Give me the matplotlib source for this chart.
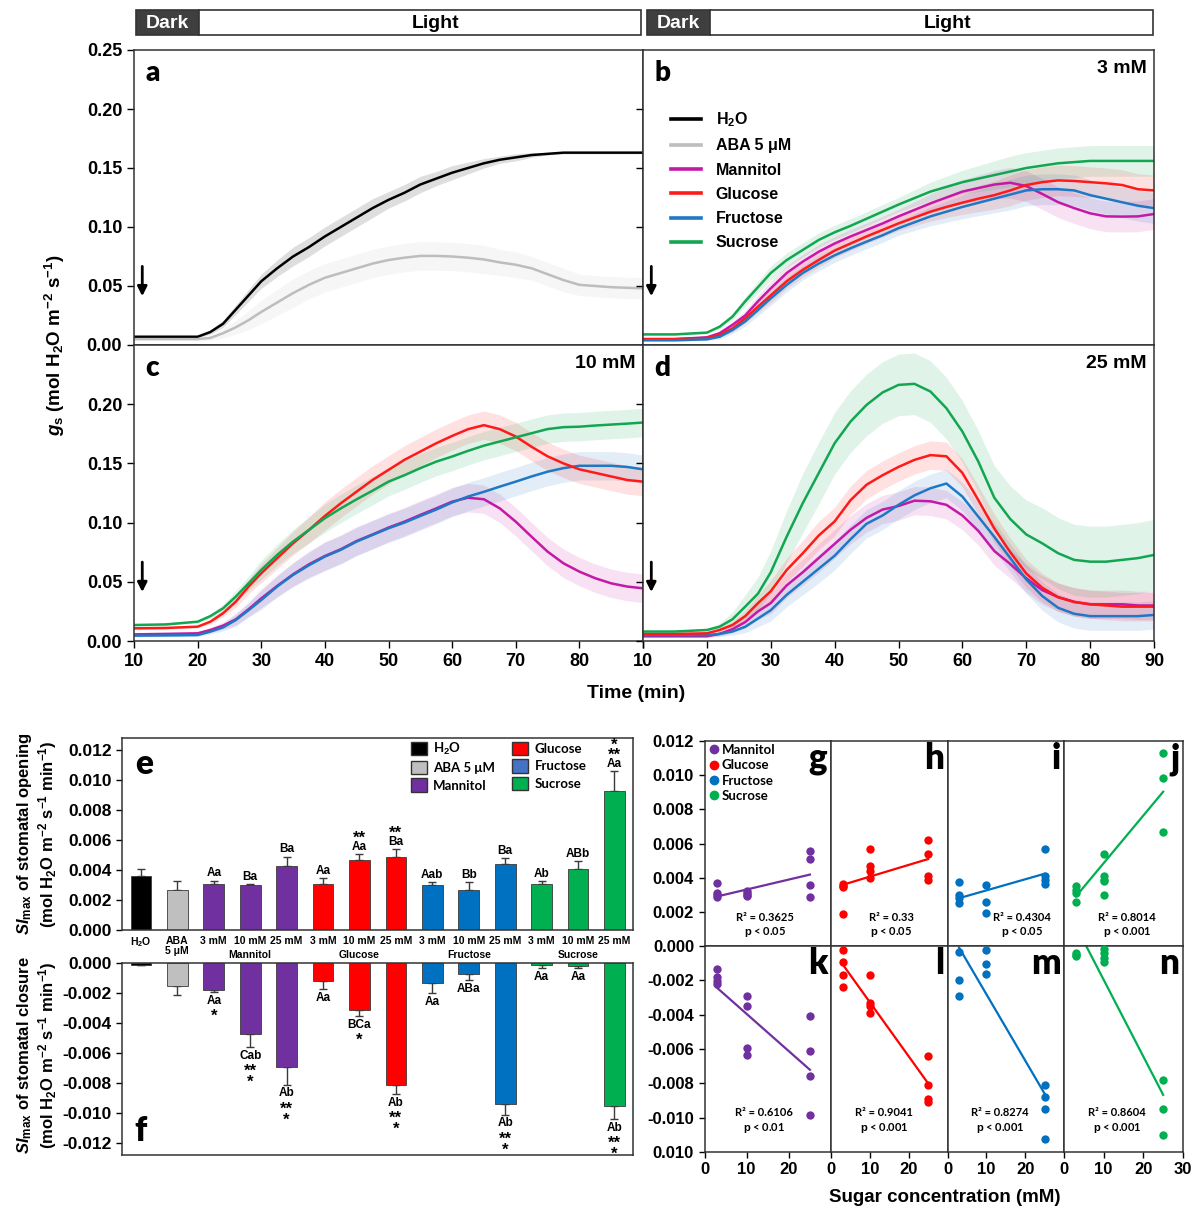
import numpy as np
import matplotlib
matplotlib.use('Agg')
import matplotlib.pyplot as plt
from matplotlib.lines import Line2D
from matplotlib.patches import Patch, Rectangle

plt.rcParams['font.family'] = ['Liberation Sans', 'DejaVu Sans']
plt.rcParams['font.weight'] = 'bold'
plt.rcParams['mathtext.fontset'] = 'custom'
plt.rcParams['mathtext.rm'] = 'Liberation Sans:bold'
plt.rcParams['mathtext.it'] = 'Liberation Sans:italic:bold'
plt.rcParams['mathtext.bf'] = 'Liberation Sans:bold'
plt.rcParams['mathtext.default'] = 'rm'
plt.rcParams['axes.linewidth'] = 1.1
plt.rcParams['axes.edgecolor'] = '#333333'

CAL = ['Lato', 'DejaVu Sans']

# ---------------- time courses (g_s, mol m-2 s-1) ----------------
T = [10, 15, 20, 22, 24, 26, 28, 30, 32.5, 35, 37.5, 40, 42.5, 45, 47.5, 50,
     52.5, 55, 57.5, 60, 62.5, 65, 67.5, 70, 72.5, 75, 77.5, 80, 82.5, 85, 87.5, 90]

a_h2o = [0.007, 0.007, 0.007, 0.011, 0.018, 0.030, 0.042, 0.054, 0.065, 0.075, 0.083, 0.092, 0.100, 0.108, 0.116, 0.123,
         0.129, 0.136, 0.141, 0.146, 0.150, 0.154, 0.157, 0.159, 0.161, 0.162, 0.163, 0.163, 0.163, 0.163, 0.163, 0.163]
a_h2o_se = [0.001, 0.001, 0.001, 0.002, 0.003, 0.004, 0.005, 0.006, 0.007, 0.008, 0.008, 0.008, 0.008, 0.008, 0.008, 0.007,
            0.007, 0.007, 0.006, 0.006, 0.005, 0.004, 0.003, 0.003, 0.002, 0.001, 0.001, 0.001, 0.001, 0.001, 0.001, 0.001]
a_aba = [0.005, 0.005, 0.005, 0.006, 0.010, 0.015, 0.021, 0.028, 0.036, 0.044, 0.051, 0.057, 0.061, 0.065, 0.069, 0.072,
         0.074, 0.0755, 0.0755, 0.075, 0.074, 0.0725, 0.070, 0.068, 0.065, 0.060, 0.055, 0.051, 0.050, 0.049, 0.0485, 0.048]
a_aba_se = [0.001, 0.001, 0.001, 0.002, 0.004, 0.006, 0.008, 0.010, 0.011, 0.012, 0.012, 0.012, 0.012, 0.012, 0.012, 0.012,
            0.012, 0.012, 0.012, 0.012, 0.012, 0.012, 0.011, 0.011, 0.010, 0.010, 0.010, 0.009, 0.009, 0.009, 0.009, 0.009]

b_man = [0.005, 0.005, 0.0065, 0.010, 0.017, 0.025, 0.037, 0.048, 0.061, 0.0706, 0.079, 0.086, 0.092, 0.0975, 0.103, 0.109,
         0.1145, 0.120, 0.125, 0.130, 0.133, 0.136, 0.1375, 0.1347, 0.128, 0.121, 0.116, 0.1116, 0.109, 0.1088, 0.109, 0.111]
b_glu = [0.005, 0.005, 0.006, 0.0085, 0.014, 0.0226, 0.0325, 0.042, 0.054, 0.0636, 0.072, 0.080, 0.086, 0.092, 0.0975, 0.103,
         0.108, 0.113, 0.117, 0.1206, 0.124, 0.127, 0.131, 0.1356, 0.138, 0.1395, 0.139, 0.138, 0.137, 0.1356, 0.132, 0.131]
b_fru = [0.004, 0.004, 0.0048, 0.007, 0.0127, 0.020, 0.0297, 0.0395, 0.051, 0.061, 0.069, 0.076, 0.082, 0.0876, 0.093, 0.099,
         0.104, 0.109, 0.113, 0.117, 0.1205, 0.124, 0.1275, 0.131, 0.132, 0.132, 0.131, 0.127, 0.124, 0.121, 0.118, 0.116]
b_suc = [0.009, 0.009, 0.0105, 0.0155, 0.024, 0.037, 0.049, 0.061, 0.072, 0.0805, 0.089, 0.0955, 0.101, 0.107, 0.113, 0.119,
         0.1245, 0.130, 0.134, 0.138, 0.141, 0.144, 0.147, 0.150, 0.152, 0.154, 0.155, 0.156, 0.156, 0.156, 0.156, 0.156]
b_se = [0.001, 0.001, 0.001, 0.002, 0.003, 0.004, 0.005, 0.006, 0.006, 0.006, 0.006, 0.006, 0.006, 0.006, 0.006, 0.006,
        0.007, 0.008, 0.009, 0.010, 0.011, 0.012, 0.013, 0.013, 0.013, 0.013, 0.013, 0.013, 0.013, 0.013, 0.013, 0.013]

c_man = [0.0056, 0.006, 0.0065, 0.0093, 0.013, 0.0183, 0.0268, 0.036, 0.0465, 0.0563, 0.0648, 0.0718, 0.0775, 0.0845, 0.090, 0.0958,
         0.1008, 0.1065, 0.112, 0.1177, 0.121, 0.1197, 0.112, 0.1008, 0.088, 0.0755, 0.0656, 0.0586, 0.053, 0.0487, 0.046, 0.0445]
c_glu = [0.0107, 0.011, 0.0121, 0.0163, 0.0234, 0.0332, 0.0459, 0.0572, 0.0699, 0.0825, 0.0938, 0.1056, 0.1163, 0.1262, 0.136, 0.1445,
         0.153, 0.160, 0.167, 0.1732, 0.1789, 0.1823, 0.1789, 0.1727, 0.164, 0.156, 0.150, 0.145, 0.142, 0.139, 0.136, 0.1346]
c_fru = [0.0045, 0.0047, 0.005, 0.0079, 0.0115, 0.0177, 0.026, 0.0346, 0.046, 0.0558, 0.064, 0.0713, 0.077, 0.084, 0.0896, 0.0952,
         0.100, 0.1056, 0.111, 0.117, 0.122, 0.126, 0.1304, 0.1346, 0.139, 0.143, 0.146, 0.148, 0.148, 0.148, 0.147, 0.145]
c_suc = [0.0135, 0.014, 0.0163, 0.021, 0.0276, 0.0375, 0.0487, 0.060, 0.0727, 0.084, 0.0938, 0.1037, 0.112, 0.1197, 0.127, 0.1346,
         0.140, 0.146, 0.1515, 0.1558, 0.1606, 0.165, 0.1685, 0.172, 0.1755, 0.179, 0.1806, 0.181, 0.182, 0.1828, 0.1836, 0.1845]
c_se = [0.001, 0.001, 0.001, 0.002, 0.003, 0.005, 0.006, 0.008, 0.009, 0.010, 0.011, 0.012, 0.012, 0.012, 0.012, 0.012,
        0.012, 0.012, 0.012, 0.012, 0.012, 0.012, 0.012, 0.012, 0.012, 0.012, 0.012, 0.012, 0.012, 0.012, 0.012, 0.012]

d_man = [0.004, 0.004, 0.004, 0.006, 0.010, 0.016, 0.025, 0.032, 0.047, 0.058, 0.070, 0.082, 0.094, 0.104, 0.111, 0.114,
         0.1185, 0.118, 0.115, 0.106, 0.093, 0.076, 0.065, 0.053, 0.043, 0.037, 0.033, 0.031, 0.031, 0.031, 0.030, 0.030]
d_glu = [0.006, 0.006, 0.0065, 0.0093, 0.0135, 0.021, 0.032, 0.042, 0.060, 0.074, 0.089, 0.101, 0.119, 0.132, 0.140, 0.147,
         0.153, 0.157, 0.156, 0.142, 0.119, 0.095, 0.075, 0.057, 0.045, 0.037, 0.033, 0.031, 0.030, 0.029, 0.029, 0.029]
d_fru = [0.005, 0.005, 0.005, 0.006, 0.008, 0.012, 0.019, 0.026, 0.039, 0.050, 0.061, 0.072, 0.086, 0.099, 0.106, 0.115,
         0.123, 0.129, 0.133, 0.122, 0.105, 0.088, 0.070, 0.052, 0.038, 0.028, 0.023, 0.021, 0.021, 0.021, 0.021, 0.022]
d_suc = [0.008, 0.008, 0.0093, 0.0121, 0.0183, 0.029, 0.040, 0.058, 0.0882, 0.1163, 0.1417, 0.167, 0.1854, 0.1994, 0.2099, 0.2163,
         0.2172, 0.2107, 0.1966, 0.1769, 0.1515, 0.121, 0.103, 0.090, 0.0825, 0.0741, 0.0685, 0.067, 0.067, 0.0685, 0.070, 0.0727]
d_se = [0.001, 0.001, 0.001, 0.002, 0.003, 0.005, 0.007, 0.009, 0.010, 0.011, 0.012, 0.012, 0.012, 0.012, 0.012, 0.012,
        0.012, 0.012, 0.012, 0.012, 0.012, 0.012, 0.012, 0.012, 0.012, 0.012, 0.012, 0.012, 0.012, 0.012, 0.012, 0.012]
d_suc_se = [0.001, 0.001, 0.001, 0.003, 0.006, 0.010, 0.014, 0.018, 0.022, 0.025, 0.026, 0.026, 0.026, 0.026, 0.026, 0.026,
            0.026, 0.026, 0.026, 0.026, 0.026, 0.027, 0.028, 0.029, 0.030, 0.030, 0.030, 0.030, 0.030, 0.030, 0.030, 0.030]

# ---------------- bar charts (SI max) ----------------
bar_labels = ['H$_2$O', 'ABA\n5 \u03bcM', '3 mM', '10 mM', '25 mM', '3 mM', '10 mM', '25 mM',
              '3 mM', '10 mM', '25 mM', '3 mM', '10 mM', '25 mM']
groups = ['Mannitol', 'Glucose', 'Fructose', 'Sucrose']
open_vals = [0.0036, 0.0027, 0.0031, 0.0030, 0.0043, 0.0031, 0.0047, 0.0049,
             0.0030, 0.0027, 0.0044, 0.0031, 0.0041, 0.0093]
open_se = [0.00045, 0.0006, 0.0002, 0.0001, 0.0006, 0.0004, 0.0004, 0.0005,
           0.0002, 0.0005, 0.0004, 0.00015, 0.0005, 0.0013]
open_letters = ['', '', 'Aa', 'Ba', 'Ba', 'Aa', 'Aa', 'Ba', 'Aab', 'Bb', 'Ba', 'Ab', 'ABb', 'Aa']
# star rows, nearest the letters first
open_stars = [[], [], [], [], [], [], ['**'], ['**'], [], [], [], [], [], ['**', '*']]
close_vals = [-0.0001, -0.0015, -0.0018, -0.0047, -0.0069, -0.0012, -0.0031, -0.0081,
              -0.0013, -0.0007, -0.0094, -0.00015, -0.0002, -0.0095]
close_se = [0.00005, 0.0006, 0.00016, 0.0009, 0.0012, 0.00056, 0.00045, 0.0006,
            0.0007, 0.0004, 0.0007, 0.00015, 0.00013, 0.0009]
close_letters = ['', '', 'Aa', 'Cab', 'Ab', 'Aa', 'BCa', 'Ab', 'Aa', 'ABa', 'Ab', 'Aa', 'Aa', 'Ab']
close_stars = [[], [], ['*'], ['**', '*'], ['**', '*'], [], ['*'], ['**', '*'], [], [], ['**', '*'], [], [], ['**', '*']]

# ---------------- regressions vs sugar concentration ----------------
sugars = ['Mannitol', 'Glucose', 'Fructose', 'Sucrose']
open_x = [[3, 3, 3, 3, 10, 10, 10, 10, 25, 25, 25, 25],
          [3, 3, 3, 3, 10, 10, 10, 10, 25, 25, 25, 25],
          [3, 3, 3, 3, 10, 10, 10, 25, 25, 25, 25],
          [3, 3, 3, 3, 10, 10, 10, 10, 10, 25, 25, 25]]
open_y = [[0.00366, 0.0031, 0.00296, 0.00284, 0.0032, 0.0031, 0.0030, 0.0029, 0.00558, 0.00507, 0.00356, 0.00284],
          [0.00364, 0.00349, 0.00343, 0.00186, 0.0057, 0.00466, 0.00437, 0.00397, 0.00619, 0.00538, 0.00407, 0.00384],
          [0.00376, 0.00296, 0.0028, 0.0025, 0.00356, 0.00255, 0.00192, 0.00568, 0.00407, 0.00388, 0.00364],
          [0.00349, 0.00325, 0.0031, 0.0026, 0.00538, 0.00407, 0.00388, 0.0038, 0.00296, 0.01132, 0.00981, 0.00666]]
close_x = [[3, 3, 3, 3, 10, 10, 10, 10, 25, 25, 25, 25],
           [3, 3, 3, 3, 10, 10, 10, 10, 25, 25, 25, 25],
           [3, 3, 3, 10, 10, 10, 25, 25, 25, 25],
           [3, 3, 3, 10, 10, 10, 10, 25, 25, 25]]
close_y = [[-0.00136, -0.00181, -0.00205, -0.00224, -0.00292, -0.00351, -0.00594, -0.00633, -0.00409, -0.0061, -0.0076, -0.00982],
           [-0.00025, -0.00092, -0.0017, -0.0024, -0.0017, -0.0033, -0.0035, -0.0039, -0.0064, -0.0081, -0.0089, -0.0091],
           [-0.00033, -0.002, -0.0029, -0.00025, -0.00107, -0.00166, -0.0081, -0.0088, -0.0095, -0.01125],
           [-0.0004, -0.0005, -0.0006, -0.00016, -0.00043, -0.00068, -0.00094, -0.0078, -0.0095, -0.011]]
fit_x = [3, 25]
open_fit = [[0.0029, 0.00418], [0.00358, 0.00509], [0.0028, 0.00423], [0.0029, 0.00903]]
close_fit = [[-0.00244, -0.00721], [-0.00107, -0.0080], [-0.0001, -0.0086], [0.00116, -0.00867]]
open_r2 = ['0.3625', '0.33', '0.4304', '0.8014']
open_p = ['0.05', '0.05', '0.05', '0.001']
close_r2 = ['0.6106', '0.9041', '0.8274', '0.8604']
close_p = ['0.01', '0.001', '0.001', '0.001']

CUR = {'Mannitol': '#C418A6', 'Glucose': '#FF1A1A', 'Fructose': '#1F78C4', 'Sucrose': '#13A650'}
BAR = {'Mannitol': '#7030A0', 'Glucose': '#FF0000', 'Fructose': '#0070C0', 'Sucrose': '#00B050'}

W, H = 1202, 1207
PT = 0.72  # points per pixel at 100 dpi
fig = plt.figure(figsize=(W / 100, H / 100), dpi=100)


def px_axes(x0, y0, x1, y1):
    return fig.add_axes([x0 / W, 1 - y1 / H, (x1 - x0) / W, (y1 - y0) / H])


# ---- Dark / Light bars ----
for x0, x1 in [(136, 641), (647, 1153)]:
    bx = px_axes(x0, 10, x1, 35)
    bx.set_xlim(10, 90)
    bx.set_ylim(0, 1)
    bx.set_axis_off()
    bx.add_patch(Rectangle((10, 0), 10, 1, facecolor='#3F3F3F', edgecolor='#333333', lw=1.2, clip_on=False))
    bx.add_patch(Rectangle((20, 0), 70, 1, facecolor='white', edgecolor='#333333', lw=1.2, clip_on=False))
    bx.text(15, 0.45, 'Dark', color='white', ha='center', va='center', fontsize=14)
    bx.text(57.5, 0.45, 'Light', color='black', ha='center', va='center', fontsize=14)

# ---- time course panels ----
ax_a = px_axes(134, 50, 643, 345)
ax_b = px_axes(643, 50, 1154, 345)
ax_c = px_axes(134, 345, 643, 641)
ax_d = px_axes(643, 345, 1154, 641)

panel_series = {
    'a': (ax_a, [(a_h2o, a_h2o_se, 'black'), (a_aba, a_aba_se, '#BDBDBD')], None),
    'b': (ax_b, [(b_man, b_se, CUR['Mannitol']), (b_glu, b_se, CUR['Glucose']),
                 (b_fru, b_se, CUR['Fructose']), (b_suc, b_se, CUR['Sucrose'])], '3 mM'),
    'c': (ax_c, [(c_man, c_se, CUR['Mannitol']), (c_fru, c_se, CUR['Fructose']),
                 (c_glu, c_se, CUR['Glucose']), (c_suc, c_se, CUR['Sucrose'])], '10 mM'),
    'd': (ax_d, [(d_man, d_se, CUR['Mannitol']), (d_fru, d_se, CUR['Fructose']),
                 (d_glu, d_se, CUR['Glucose']), (d_suc, d_suc_se, CUR['Sucrose'])], '25 mM'),
}

for letter, (ax, series, conc) in panel_series.items():
    for y, se, col in series:
        y = np.array(y)
        se = np.array(se)
        ax.fill_between(T, y - se, y + se, color=col, alpha=0.13, lw=0)
    for y, se, col in series:
        ax.plot(T, y, color=col, lw=1.8)
    ax.set_xlim(10, 90)
    ax.set_ylim(0, 0.25)
    ax.tick_params(axis='y', direction='out', length=5, width=1, labelsize=13)
    if letter in ('a', 'c'):
        yt = [0, 0.05, 0.10, 0.15, 0.20, 0.25] if letter == 'a' else [0, 0.05, 0.10, 0.15, 0.20]
        ax.set_yticks(yt)
        ax.set_yticklabels(['%.2f' % v for v in yt])
    else:
        ax.set_yticks([0, 0.05, 0.10, 0.15, 0.20])
        ax.tick_params(axis='y', labelleft=False)
    if letter in ('a', 'b'):
        ax.tick_params(axis='x', length=0, labelbottom=False)
    else:
        ax.set_xticks(range(10, 91, 10))
        labs = [str(v) for v in range(10, 91, 10)]
        if letter == 'c':
            labs[-1] = ''
        ax.set_xticklabels(labs)
        ax.tick_params(axis='x', direction='out', length=5, width=1, labelsize=13, pad=4)
    ax.text(0.022, 0.965, letter, transform=ax.transAxes, ha='left', va='top',
            fontsize=20, family=CAL, fontweight='heavy')
    if conc:
        ax.text(0.985, 0.965, conc, transform=ax.transAxes, ha='right', va='top', fontsize=14)
    ax.annotate('', xy=(11.3, 0.039), xytext=(11.3, 0.069),
                arrowprops=dict(arrowstyle='-|>', color='black', lw=2, mutation_scale=14))

leg_handles = [Line2D([], [], color='black', lw=2.6), Line2D([], [], color='#BDBDBD', lw=2.6),
               Line2D([], [], color=CUR['Mannitol'], lw=2.6), Line2D([], [], color=CUR['Glucose'], lw=2.6),
               Line2D([], [], color=CUR['Fructose'], lw=2.6), Line2D([], [], color=CUR['Sucrose'], lw=2.6)]
ax_b.legend(leg_handles, ['H$_2$O', 'ABA 5 \u03bcM', 'Mannitol', 'Glucose', 'Fructose', 'Sucrose'],
            loc='upper left', bbox_to_anchor=(0.055, 0.795), frameon=False, fontsize=11.5,
            handlelength=1.9, handletextpad=0.9, labelspacing=0.58, borderpad=0, borderaxespad=0)

fig.text(55 / W, 1 - 345 / H, r'$\mathit{g}_\mathrm{s}$ (mol H$_2$O m$^{-2}$ s$^{-1}$)',
         rotation=90, ha='center', va='center', fontsize=13.5)
fig.text(636 / W, 1 - 693 / H, 'Time (min)', ha='center', va='center', fontsize=14)

# ---- bar charts e / f ----
ax_e = px_axes(122, 738, 633, 930)
ax_f = px_axes(122, 963, 633, 1155)
pos = np.arange(len(open_vals))
bar_cols = ['black', '#BFBFBF'] + [BAR[g] for g in groups for _ in range(3)]

ax_e.bar(pos, open_vals, width=0.57, color=bar_cols, edgecolor='#3A3A3A', lw=0.6, zorder=2)
ax_e.errorbar(pos, open_vals, yerr=[np.zeros(len(pos)), open_se], fmt='none', ecolor='#3A3A3A',
              elinewidth=1, capsize=3, capthick=1, zorder=1)
ax_f.bar(pos, close_vals, width=0.57, color=bar_cols, edgecolor='#3A3A3A', lw=0.6, zorder=2)
ax_f.errorbar(pos, close_vals, yerr=[close_se, np.zeros(len(pos))], fmt='none', ecolor='#3A3A3A',
              elinewidth=1, capsize=3, capthick=1, zorder=1)

STAR_FS = 12
STAR_MID = 7.8  # px from baseline to the middle of an asterisk at STAR_FS
for i in pos:
    top = open_vals[i] + open_se[i]
    if open_letters[i]:
        ax_e.annotate(open_letters[i], xy=(i, top), xytext=(0, 7 * PT), textcoords='offset points',
                      ha='center', va='center', fontsize=8.5)
    for r, row in enumerate(open_stars[i]):
        mid = 19 + 10 * r
        ax_e.annotate(row, xy=(i, top), xytext=(0, (mid - STAR_MID) * PT), textcoords='offset points',
                      ha='center', va='baseline', fontsize=STAR_FS)
    bot = close_vals[i] - close_se[i]
    if close_letters[i]:
        ax_f.annotate(close_letters[i], xy=(i, bot), xytext=(0, -9 * PT), textcoords='offset points',
                      ha='center', va='center', fontsize=8.5)
    for r, row in enumerate(close_stars[i]):
        mid = 21 + 11 * r
        ax_f.annotate(row, xy=(i, bot), xytext=(0, -(mid + STAR_MID) * PT), textcoords='offset points',
                      ha='center', va='baseline', fontsize=STAR_FS)

for ax in (ax_e, ax_f):
    ax.set_xlim(-0.52, 13.51)
    ax.tick_params(axis='y', direction='out', length=4, width=1, labelsize=12.5)
ax_e.set_ylim(0, 0.0128)
ax_f.set_ylim(-0.0128, 0)
yt_e = [0, 0.002, 0.004, 0.006, 0.008, 0.010, 0.012]
ax_e.set_yticks(yt_e)
ax_e.set_yticklabels(['%.3f' % v for v in yt_e])
yt_f = [0, -0.002, -0.004, -0.006, -0.008, -0.010, -0.012]
ax_f.set_yticks(yt_f)
ax_f.set_yticklabels(['%.3f' % v for v in yt_f])
ax_e.set_xticks(pos)
ax_e.set_xticklabels(bar_labels, fontsize=7.5, linespacing=1.0)
ax_e.tick_params(axis='x', length=0, pad=4)
ax_f.set_xticks([])
for k, g in enumerate(groups):
    ax_e.text(3 + 3 * k, -0.105, g, transform=ax_e.get_xaxis_transform(), ha='center', va='top', fontsize=7.5)

ax_e.text(0.025, 0.95, 'e', transform=ax_e.transAxes, ha='left', va='top', fontsize=24, family=CAL, fontweight='heavy')
ax_f.text(0.025, 0.04, 'f', transform=ax_f.transAxes, ha='left', va='bottom', fontsize=24, family=CAL, fontweight='heavy')

bar_leg = [Patch(facecolor='black', edgecolor='#333333'), Patch(facecolor='#BFBFBF', edgecolor='#333333'),
           Patch(facecolor=BAR['Mannitol'], edgecolor='#333333'), Patch(facecolor=BAR['Glucose'], edgecolor='#333333'),
           Patch(facecolor='#4472C4', edgecolor='#333333'), Patch(facecolor=BAR['Sucrose'], edgecolor='#333333')]
ax_e.legend(bar_leg, ['H$_2$O', 'ABA 5 \u03bcM', 'Mannitol', 'Glucose', 'Fructose', 'Sucrose'], ncol=2,
            loc='upper left', bbox_to_anchor=(0.565, 0.985), frameon=False, prop={'family': CAL, 'size': 9.5, 'weight': 'bold'},
            handlelength=1.2, handleheight=1.2, handletextpad=0.5, columnspacing=1.3, labelspacing=0.3,
            borderpad=0, borderaxespad=0)

fig.text(37 / W, 1 - 834 / H, r'$\mathit{SI}_\mathrm{max}$ of stomatal opening' + '\n' +
         r'(mol H$_2$O m$^{-2}$ s$^{-1}$ min$^{-1}$)', rotation=90, ha='center', va='center',
         fontsize=12, linespacing=1.15)
fig.text(37 / W, 1 - 1055 / H, r'$\mathit{SI}_\mathrm{max}$ of stomatal closure' + '\n' +
         r'(mol H$_2$O m$^{-2}$ s$^{-1}$ min$^{-1}$)', rotation=90, ha='center', va='center',
         fontsize=12, linespacing=1.15)

# ---- regression panels g-n ----
xb = [704.5, 831, 947.5, 1064, 1183]
top_letters = ['g', 'h', 'i', 'j']
bot_letters = ['k', 'l', 'm', 'n']
open_tx = [0.48, 0.515, 0.64, 0.53]
close_tx = [0.47, 0.455, 0.45, 0.445]
for k, s in enumerate(sugars):
    col = BAR[s]
    at = px_axes(xb[k], 741, xb[k + 1], 946)
    ab = px_axes(xb[k], 946, xb[k + 1], 1152)
    at.scatter(open_x[k], open_y[k], s=36, color=col, zorder=3, clip_on=False, lw=0)
    at.plot(fit_x, open_fit[k], color=col, lw=1.6)
    ab.scatter(close_x[k], close_y[k], s=36, color=col, zorder=3, clip_on=False, lw=0)
    ab.plot(fit_x, close_fit[k], color=col, lw=1.6)
    at.set_ylim(0, 0.012)
    ab.set_ylim(-0.012, 0)
    for ax in (at, ab):
        ax.set_xlim(0, 30)
        ax.tick_params(axis='both', direction='out', length=4, width=1, labelsize=12)
    at.set_xticks([])
    ab.set_xticks([0, 10, 20, 30] if k == 3 else [0, 10, 20])
    if k == 0:
        yt = [0.002, 0.004, 0.006, 0.008, 0.010, 0.012]
        at.set_yticks(yt)
        at.set_yticklabels(['%.3f' % v for v in yt])
        yb = [0, -0.002, -0.004, -0.006, -0.008, -0.010, -0.012]
        ab.set_yticks(yb)
        ab.set_yticklabels(['0.000', '-0.002', '-0.004', '-0.006', '-0.008', '-0.010', '0.010'])
    else:
        at.set_yticks([])
        ab.set_yticks([])
    at.text(0.97, 0.995, top_letters[k], transform=at.transAxes, ha='right', va='top',
            fontsize=25, family=CAL, fontweight='heavy')
    ab.text(0.97, 0.995, bot_letters[k], transform=ab.transAxes, ha='right', va='top',
            fontsize=25, family=CAL, fontweight='heavy')
    at.text(open_tx[k], 0.137, 'R\u00b2 = ' + open_r2[k], transform=at.transAxes, ha='center', va='center',
            fontsize=8, family=CAL)
    at.text(open_tx[k], 0.068, '$p$ < ' + open_p[k], transform=at.transAxes, ha='center', va='center',
            fontsize=8, family=CAL)
    ab.text(close_tx[k], 0.19, 'R\u00b2 = ' + close_r2[k], transform=ab.transAxes, ha='center', va='center',
            fontsize=8, family=CAL)
    ab.text(close_tx[k], 0.117, '$p$ < ' + close_p[k], transform=ab.transAxes, ha='center', va='center',
            fontsize=8, family=CAL)
    if k == 0:
        sc_leg = [Line2D([], [], marker='o', ls='', color=BAR[t], markersize=6) for t in sugars]
        at.legend(sc_leg, sugars, loc='upper left', bbox_to_anchor=(0.02, 0.985), frameon=False,
                  prop={'family': CAL, 'size': 9.5, 'weight': 'bold'}, handletextpad=0.1,
                  labelspacing=0.25, borderpad=0, borderaxespad=0, handlelength=1.0)

fig.text(945 / W, 1 - 1197 / H, 'Sugar concentration (mM)', ha='center', va='center', fontsize=13.5)

fig.savefig('out.png', dpi=100)
